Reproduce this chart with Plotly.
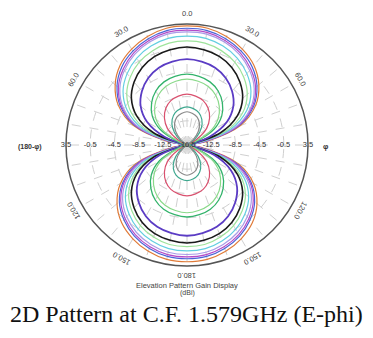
import math
import plotly.graph_objects as go

# angles (deg, clockwise from top) for the right half of each pattern
theta_right = [0, 10, 20, 30, 40, 50, 60, 70, 80, 90, 100, 110, 120, 130, 140, 150, 160, 170, 180]

# gain values (dBi), one list per curve (right half, 0..180 deg)
g_orange = [3.2, 3.1, 2.6, 1.8, 0.7, -1.0, -3.4, -7.1, -13.5, -16.5, -13.9, -7.5, -3.8, -1.4, 0.3, 1.4, 2.2, 2.7, 2.8]
g_blue = [2.8, 2.7, 2.2, 1.4, 0.3, -1.4, -3.8, -7.5, -13.9, -16.5, -14.4, -8.0, -4.3, -1.9, -0.3, 0.9, 1.7, 2.2, 2.3]
g_magenta = [2.5, 2.4, 1.9, 1.1, -0.1, -1.7, -4.1, -7.8, -14.2, -16.5, -14.7, -8.3, -4.6, -2.2, -0.6, 0.6, 1.4, 1.9, 2.0]
g_violet = [2.2, 2.1, 1.6, 0.8, -0.4, -2.0, -4.4, -8.1, -14.5, -16.5, -15.1, -8.7, -5.0, -2.6, -1.0, 0.2, 1.0, 1.5, 1.6]
g_cyan = [1.5, 1.4, 0.9, 0.1, -1.1, -2.7, -5.1, -8.8, -15.2, -16.5, -15.7, -9.3, -5.6, -3.2, -1.6, -0.4, 0.4, 0.9, 1.0]
g_ltgreen = [0.7, 0.6, 0.1, -0.7, -1.9, -3.5, -5.9, -9.6, -16.0, -16.5, -16.4, -10.0, -6.3, -3.9, -2.3, -1.1, -0.3, 0.2, 0.3]
g_black = [-0.3, -0.5, -0.9, -1.7, -2.9, -4.5, -6.9, -10.6, -16.5, -16.5, -16.5, -10.6, -6.9, -4.5, -2.9, -1.7, -0.9, -0.5, -0.3]
g_purple = [-2.3, -2.5, -2.9, -3.7, -4.9, -6.5, -8.9, -12.6, -16.5, -16.5, -16.5, -11.8, -8.1, -5.7, -4.1, -2.9, -2.1, -1.7, -1.5]
g_green = [-4.8, -5.0, -5.4, -6.2, -7.4, -9.0, -11.4, -15.1, -16.5, -16.5, -16.5, -14.9, -11.2, -8.8, -7.2, -6.0, -5.2, -4.8, -4.6]
g_ltgreen2 = [-5.6, -5.8, -6.2, -7.0, -8.2, -9.8, -12.2, -15.9, -16.5, -16.5, -16.5, -15.6, -11.9, -9.5, -7.9, -6.7, -5.9, -5.5, -5.3]
g_red = [-8.1, -8.3, -8.7, -9.5, -10.7, -12.3, -14.7, -16.5, -16.5, -16.5, -16.5, -16.5, -14.7, -12.3, -10.7, -9.5, -8.7, -8.3, -8.1]
g_teal = [-10.2, -10.4, -10.8, -11.6, -12.8, -14.4, -16.5, -16.5, -16.5, -16.5, -16.5, -16.5, -16.5, -14.8, -13.2, -12.0, -11.2, -10.8, -10.6]
g_gray = [-11.0, -11.2, -11.6, -12.4, -13.6, -15.2, -16.5, -16.5, -16.5, -16.5, -16.5, -16.5, -16.5, -15.7, -14.1, -12.9, -12.1, -11.7, -11.5]

series = [
    (g_orange, "#e07b39", 1.2),
    (g_blue, "#4a63d8", 1.2),
    (g_magenta, "#b44bc8", 1.2),
    (g_violet, "#a99be8", 1.2),
    (g_cyan, "#63cfe0", 1.2),
    (g_ltgreen, "#9ee39b", 1.2),
    (g_black, "#1a1a1a", 1.6),
    (g_purple, "#5b3cc4", 1.8),
    (g_green, "#33b36b", 1.3),
    (g_ltgreen2, "#8ad98a", 1.2),
    (g_red, "#d9506e", 1.2),
    (g_teal, "#3fa88f", 1.2),
    (g_gray, "#8a8a8a", 1.2),
]

radial_ticks = [3.5, -0.5, -4.5, -8.5, -12.5]
center_tick = -16.5
r_min, r_max = -16.5, 3.5

angle_ticks = [0, 30, 60, 120, 150, 180, 210, 240, 300, 330]
angle_labels = ["0.0", "30.0", "60.0", "120.0", "150.0", "180.0", "150.0", "120.0", "60.0", "30.0"]

fig = go.Figure()

for vals, col, w in series:
    th = theta_right + [360 - t for t in reversed(theta_right[:-1])]
    rr = vals + list(reversed(vals[:-1]))
    fig.add_trace(go.Scatterpolar(
        theta=th, r=rr, mode="lines",
        line=dict(color=col, width=w, shape="spline", smoothing=1),
        hoverinfo="skip", showlegend=False))

# radial value labels on both sides of the horizontal axis
lab_theta = [270] * len(radial_ticks) + [90] * len(radial_ticks) + [90]
lab_r = radial_ticks + radial_ticks + [center_tick]
lab_text = [f"{v:.1f}" for v in lab_r]
fig.add_trace(go.Scatterpolar(
    theta=lab_theta, r=lab_r, mode="text", text=lab_text,
    textposition="middle center", cliponaxis=False,
    textfont=dict(family="Liberation Sans", size=7.5, color="#333333"),
    hoverinfo="skip", showlegend=False))

# geometry of the polar area on the page (pixels)
W, H = 373, 338
cx, cy, R = 187, 145, 121

fig.update_layout(
    width=W, height=H,
    margin=dict(l=0, r=0, t=0, b=0),
    paper_bgcolor="white",
    showlegend=False,
    polar=dict(
        domain=dict(x=[(cx - R) / W, (cx + R) / W], y=[(H - cy - R) / H, (H - cy + R) / H]),
        bgcolor="white",
        angularaxis=dict(
            rotation=90, direction="clockwise",
            tickmode="array", tickvals=list(range(0, 360, 10)),
            showticklabels=False, ticks="",
            showgrid=True, gridcolor="#d0d0d0", gridwidth=0.8, griddash="dash",
            showline=True, linecolor="#555555", linewidth=1.5,
        ),
        radialaxis=dict(
            range=[r_min, r_max],
            tickmode="array", tickvals=radial_ticks,
            showticklabels=False, ticks="",
            showgrid=True, gridcolor="#cfcfcf", gridwidth=0.8, griddash="dash",
            showline=False,
        ),
    ),
)

annotations = []
RL = 131
for a, t in zip(angle_ticks, angle_labels):
    ang = math.radians(a)
    px = cx + RL * math.sin(ang)
    py = cy - RL * math.cos(ang)
    ta = a if a <= 180 else a - 360
    annotations.append(dict(
        x=px / W, y=1 - py / H, xref="paper", yref="paper",
        text=t, showarrow=False, textangle=ta,
        xanchor="center", yanchor="middle",
        font=dict(family="Liberation Sans", size=7.5, color="#444444")))

annotations += [
    dict(x=30 / W, y=1 - 147 / H, xref="paper", yref="paper", text="<b>(180-φ)</b>",
         showarrow=False, xanchor="center", yanchor="middle",
         font=dict(family="Liberation Sans", size=7, color="#333333")),
    dict(x=326 / W, y=1 - 146 / H, xref="paper", yref="paper", text="<b>φ</b>",
         showarrow=False, xanchor="center", yanchor="middle",
         font=dict(family="Liberation Sans", size=7.5, color="#333333")),
    dict(x=187 / W, y=1 - 285 / H, xref="paper", yref="paper", text="Elevation Pattern Gain Display",
         showarrow=False, xanchor="center", yanchor="middle",
         font=dict(family="Liberation Sans", size=7.5, color="#444444")),
    dict(x=187 / W, y=1 - 293 / H, xref="paper", yref="paper", text="(dBi)",
         showarrow=False, xanchor="center", yanchor="middle",
         font=dict(family="Liberation Sans", size=7, color="#444444")),
    dict(x=186 / W, y=1 - 314 / H, xref="paper", yref="paper", text="2D Pattern at C.F. 1.579GHz (E-phi)",
         showarrow=False, xanchor="center", yanchor="middle",
         font=dict(family="Liberation Serif", size=24, color="#111111")),
]
fig.update_layout(annotations=annotations)

fig.write_html("out.html")
